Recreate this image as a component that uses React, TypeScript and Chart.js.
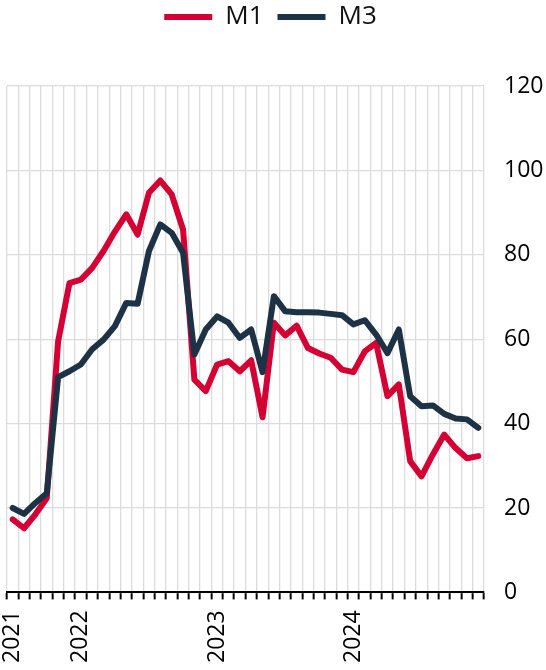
import { useEffect, useRef } from "react";
import { Chart, registerables } from "chart.js";

Chart.register(...registerables);

const categories = [
  "2021-07", "2021-08", "2021-09", "2021-10", "2021-11", "2021-12",
  "2022-01", "2022-02", "2022-03", "2022-04", "2022-05", "2022-06",
  "2022-07", "2022-08", "2022-09", "2022-10", "2022-11", "2022-12",
  "2023-01", "2023-02", "2023-03", "2023-04", "2023-05", "2023-06",
  "2023-07", "2023-08", "2023-09", "2023-10", "2023-11", "2023-12",
  "2024-01", "2024-02", "2024-03", "2024-04", "2024-05", "2024-06",
  "2024-07", "2024-08", "2024-09", "2024-10", "2024-11", "2024-12",
];

const m1Values = [
  17.3, 15.2, 18.5, 22.3, 59.5, 73.3, 74.1, 76.9, 80.9, 85.5, 89.6, 84.8,
  94.7, 97.6, 94.3, 86.0, 50.4, 47.7, 54.0, 54.8, 52.4, 55.0, 41.5, 63.9,
  60.9, 63.2, 57.9, 56.6, 55.6, 52.8, 52.2, 57.1, 59.1, 46.5, 49.3, 31.1,
  27.5, 32.7, 37.4, 34.2, 31.8, 32.3,
];

const m3Values = [
  20.0, 18.6, 21.2, 23.5, 51.0, 52.4, 54.0, 57.6, 59.9, 63.1, 68.6, 68.4,
  80.9, 87.2, 85.2, 80.5, 56.4, 62.3, 65.4, 63.9, 60.3, 62.3, 52.2, 70.2,
  66.6, 66.4, 66.4, 66.3, 66.0, 65.7, 63.5, 64.5, 61.1, 56.7, 62.3, 46.5,
  44.1, 44.3, 42.3, 41.2, 41.0, 39.0,
];

const seriesNames = ["M1", "M3"];
const yMin = 0;
const yMax = 120;
const yStep = 20;

const RED = "#d40033";
const NAVY = "#1e3246";
const GRID = "#dcdcdc";
const FONT = '"Open Sans", "Noto Sans", sans-serif';
const LEGEND_EXTRA = 46;
const LEGEND_SHIFT = -6;
const Y_AXIS_WIDTH = 62;
const W = 546;
const H = 670;

export default function App() {
  const ref = useRef<HTMLCanvasElement>(null);

  useEffect(() => {
    document.documentElement.style.overflow = "hidden";
    document.body.style.margin = "0";
    document.body.style.overflow = "hidden";
    const canvas = ref.current;
    if (!canvas) return;

    const legendSpacer = {
      id: "legendSpacer",
      afterInit(chart: any) {
        const legend = chart.legend;
        if (!legend) return;
        const orig = legend.fit;
        legend.fit = function () {
          orig.call(this);
          this.height += LEGEND_EXTRA;
        };
      },
      afterLayout(chart: any) {
        const legend = chart.legend;
        if (!legend) return;
        legend.left += LEGEND_SHIFT;
        legend.right += LEGEND_SHIFT;
      },
    };

    const chart = new Chart(canvas, {
      type: "line",
      data: {
        labels: categories,
        datasets: [
          {
            label: seriesNames[0],
            data: m1Values,
            borderColor: RED,
            backgroundColor: RED,
            borderWidth: 6,
            pointRadius: 0,
            tension: 0,
            borderCapStyle: "round",
            borderJoinStyle: "round",
            order: 1,
          },
          {
            label: seriesNames[1],
            data: m3Values,
            borderColor: NAVY,
            backgroundColor: NAVY,
            borderWidth: 6,
            pointRadius: 0,
            tension: 0,
            borderCapStyle: "round",
            borderJoinStyle: "round",
            order: 0,
          },
        ],
      },
      options: {
        animation: false,
        responsive: false,
        maintainAspectRatio: false,
        devicePixelRatio: 1,
        layout: { padding: { top: -10, left: 7, right: 0, bottom: -4 } },
        plugins: {
          legend: {
            display: true,
            position: "top",
            labels: {
              usePointStyle: true,
              pointStyle: "line",
              pointStyleWidth: 48,
              padding: 14,
              color: "#111",
              font: { family: FONT, size: 26 },
              sort: (a: any, b: any) => a.datasetIndex - b.datasetIndex,
            },
          },
          tooltip: { enabled: false },
        },
        scales: {
          x: {
            offset: true,
            grid: {
              offset: true,
              color: GRID,
              lineWidth: 1.3,
              drawTicks: true,
              tickColor: "#000",
              tickLength: 7,
              tickWidth: 2,
            },
            border: { display: true, color: "#000", width: 2 },
            ticks: {
              autoSkip: false,
              minRotation: 90,
              maxRotation: 90,
              padding: 11,
              color: "#000",
              font: { family: FONT, size: 23 },
              callback: (_v: any, i: number) => {
                const c = categories[i];
                return i === 0 || c.endsWith("-01") ? c.slice(0, 4) : "";
              },
            },
          },
          y: {
            position: "right",
            min: yMin,
            max: yMax,
            afterFit: (scale: any) => {
              scale.width = Y_AXIS_WIDTH;
            },
            ticks: {
              stepSize: yStep,
              padding: 20,
              color: "#000",
              font: { family: FONT, size: 23 },
            },
            grid: { color: GRID, lineWidth: 1.3, drawTicks: false },
            border: { display: false },
          },
        },
      },
      plugins: [legendSpacer],
    } as any);

    return () => chart.destroy();
  }, []);

  return (
    <div style={{ width: W, height: H }}>
      <canvas ref={ref} width={W} height={H} style={{ display: "block", width: W, height: H }} />
    </div>
  );
}
